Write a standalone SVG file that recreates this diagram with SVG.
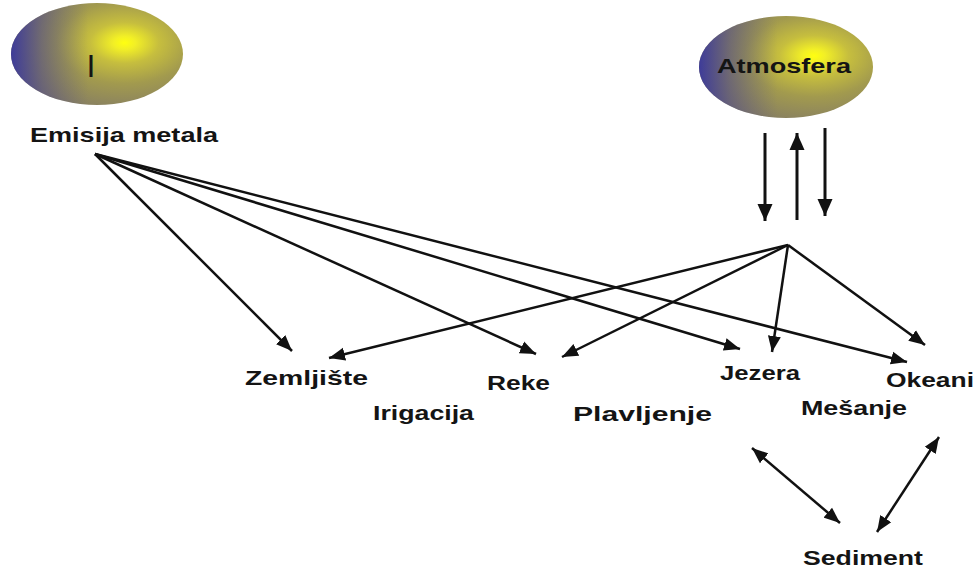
<svg xmlns="http://www.w3.org/2000/svg" width="979" height="569" viewBox="0 0 979 569">
<defs>
<radialGradient id="g1" cx="0.66" cy="0.39" r="0.8" fx="0.66" fy="0.39">
<stop offset="0" stop-color="#ffff10"/>
<stop offset="0.08" stop-color="#f2ef26"/>
<stop offset="0.25" stop-color="#c6be3e"/>
<stop offset="0.5" stop-color="#a29a4e"/>
<stop offset="0.8" stop-color="#8a8260"/>
<stop offset="1" stop-color="#767070"/>
</radialGradient>
<linearGradient id="g2" x1="0" y1="0" x2="1" y2="0">
<stop offset="0" stop-color="#3a389c" stop-opacity="0.95"/>
<stop offset="0.18" stop-color="#4a468c" stop-opacity="0.5"/>
<stop offset="0.45" stop-color="#5a5580" stop-opacity="0"/>
</linearGradient>
<marker id="ah" markerUnits="userSpaceOnUse" markerWidth="17" markerHeight="14" refX="16" refY="7" orient="auto-start-reverse" viewBox="0 0 17 14">
<path d="M0,0.5 L16,7 L0,13.5 z" fill="#111"/>
</marker>
<marker id="ahb" markerUnits="userSpaceOnUse" markerWidth="18" markerHeight="16" refX="17" refY="8" orient="auto-start-reverse" viewBox="0 0 18 16">
<path d="M0,0.5 L17,8 L0,15.5 z" fill="#111"/>
</marker>
</defs>
<style>
.lbl{font-family:"Liberation Sans",Arial,sans-serif;font-weight:bold;font-size:21px;fill:#141414}
.c{stroke:#111;stroke-width:2.5;fill:none;marker-end:url(#ah)}
.v{stroke:#111;stroke-width:3;fill:none;marker-end:url(#ahb)}
.d{stroke:#111;stroke-width:2.5;fill:none;marker-start:url(#ah);marker-end:url(#ah)}
</style>
<rect width="979" height="569" fill="#ffffff"/>
<g id="node-I">
<ellipse cx="97" cy="54" rx="86" ry="51" fill="url(#g1)"/>
<ellipse cx="97" cy="54" rx="86" ry="51" fill="url(#g2)"/>
<text x="91" y="77" text-anchor="middle" style="font-family:'Liberation Sans',Arial,sans-serif;font-size:32px;fill:#141414">I</text>
</g>
<g id="node-emisija"><text class="lbl" x="30" y="142" textLength="188" lengthAdjust="spacingAndGlyphs">Emisija metala</text></g>
<g id="node-atmosfera">
<ellipse cx="786" cy="67" rx="87" ry="51" fill="url(#g1)"/>
<ellipse cx="786" cy="67" rx="87" ry="51" fill="url(#g2)"/>
<text class="lbl" x="717" y="72.5" textLength="134" lengthAdjust="spacingAndGlyphs">Atmosfera</text>
</g>
<g id="node-zemljiste"><text class="lbl" x="245" y="385" textLength="123" lengthAdjust="spacingAndGlyphs">Zemljište</text></g>
<g id="node-reke"><text class="lbl" x="487" y="390" textLength="63" lengthAdjust="spacingAndGlyphs">Reke</text></g>
<g id="node-jezera"><text class="lbl" x="720" y="380" textLength="80" lengthAdjust="spacingAndGlyphs">Jezera</text></g>
<g id="node-okeani"><text class="lbl" x="886" y="387" textLength="88" lengthAdjust="spacingAndGlyphs">Okeani</text></g>
<g id="node-irigacija"><text class="lbl" x="373" y="420" textLength="101" lengthAdjust="spacingAndGlyphs">Irigacija</text></g>
<g id="node-plavljenje"><text class="lbl" x="573" y="421" textLength="139" lengthAdjust="spacingAndGlyphs">Plavljenje</text></g>
<g id="node-mesanje"><text class="lbl" x="801" y="415" textLength="106" lengthAdjust="spacingAndGlyphs">Mešanje</text></g>
<g id="node-sediment"><text class="lbl" x="803" y="565" textLength="120" lengthAdjust="spacingAndGlyphs">Sediment</text></g>
<g id="connectors">
<line class="c" x1="95" y1="154" x2="292" y2="351"/>
<line class="c" x1="95" y1="154" x2="536" y2="354"/>
<line class="c" x1="95" y1="154" x2="740" y2="349"/>
<line class="c" x1="95" y1="154" x2="907" y2="362"/>
<line class="c" x1="788" y1="245" x2="329" y2="358"/>
<line class="c" x1="788" y1="245" x2="562" y2="357"/>
<line class="c" x1="788" y1="245" x2="772" y2="352"/>
<line class="c" x1="788" y1="245" x2="925" y2="345"/>
<line class="v" x1="765" y1="133" x2="765" y2="221"/>
<line class="v" x1="797" y1="220" x2="797" y2="133"/>
<line class="v" x1="825" y1="128" x2="825" y2="216"/>
<line class="d" x1="752" y1="448" x2="840" y2="523"/>
<line class="d" x1="877" y1="532" x2="939" y2="437"/>
</g>
</svg>
